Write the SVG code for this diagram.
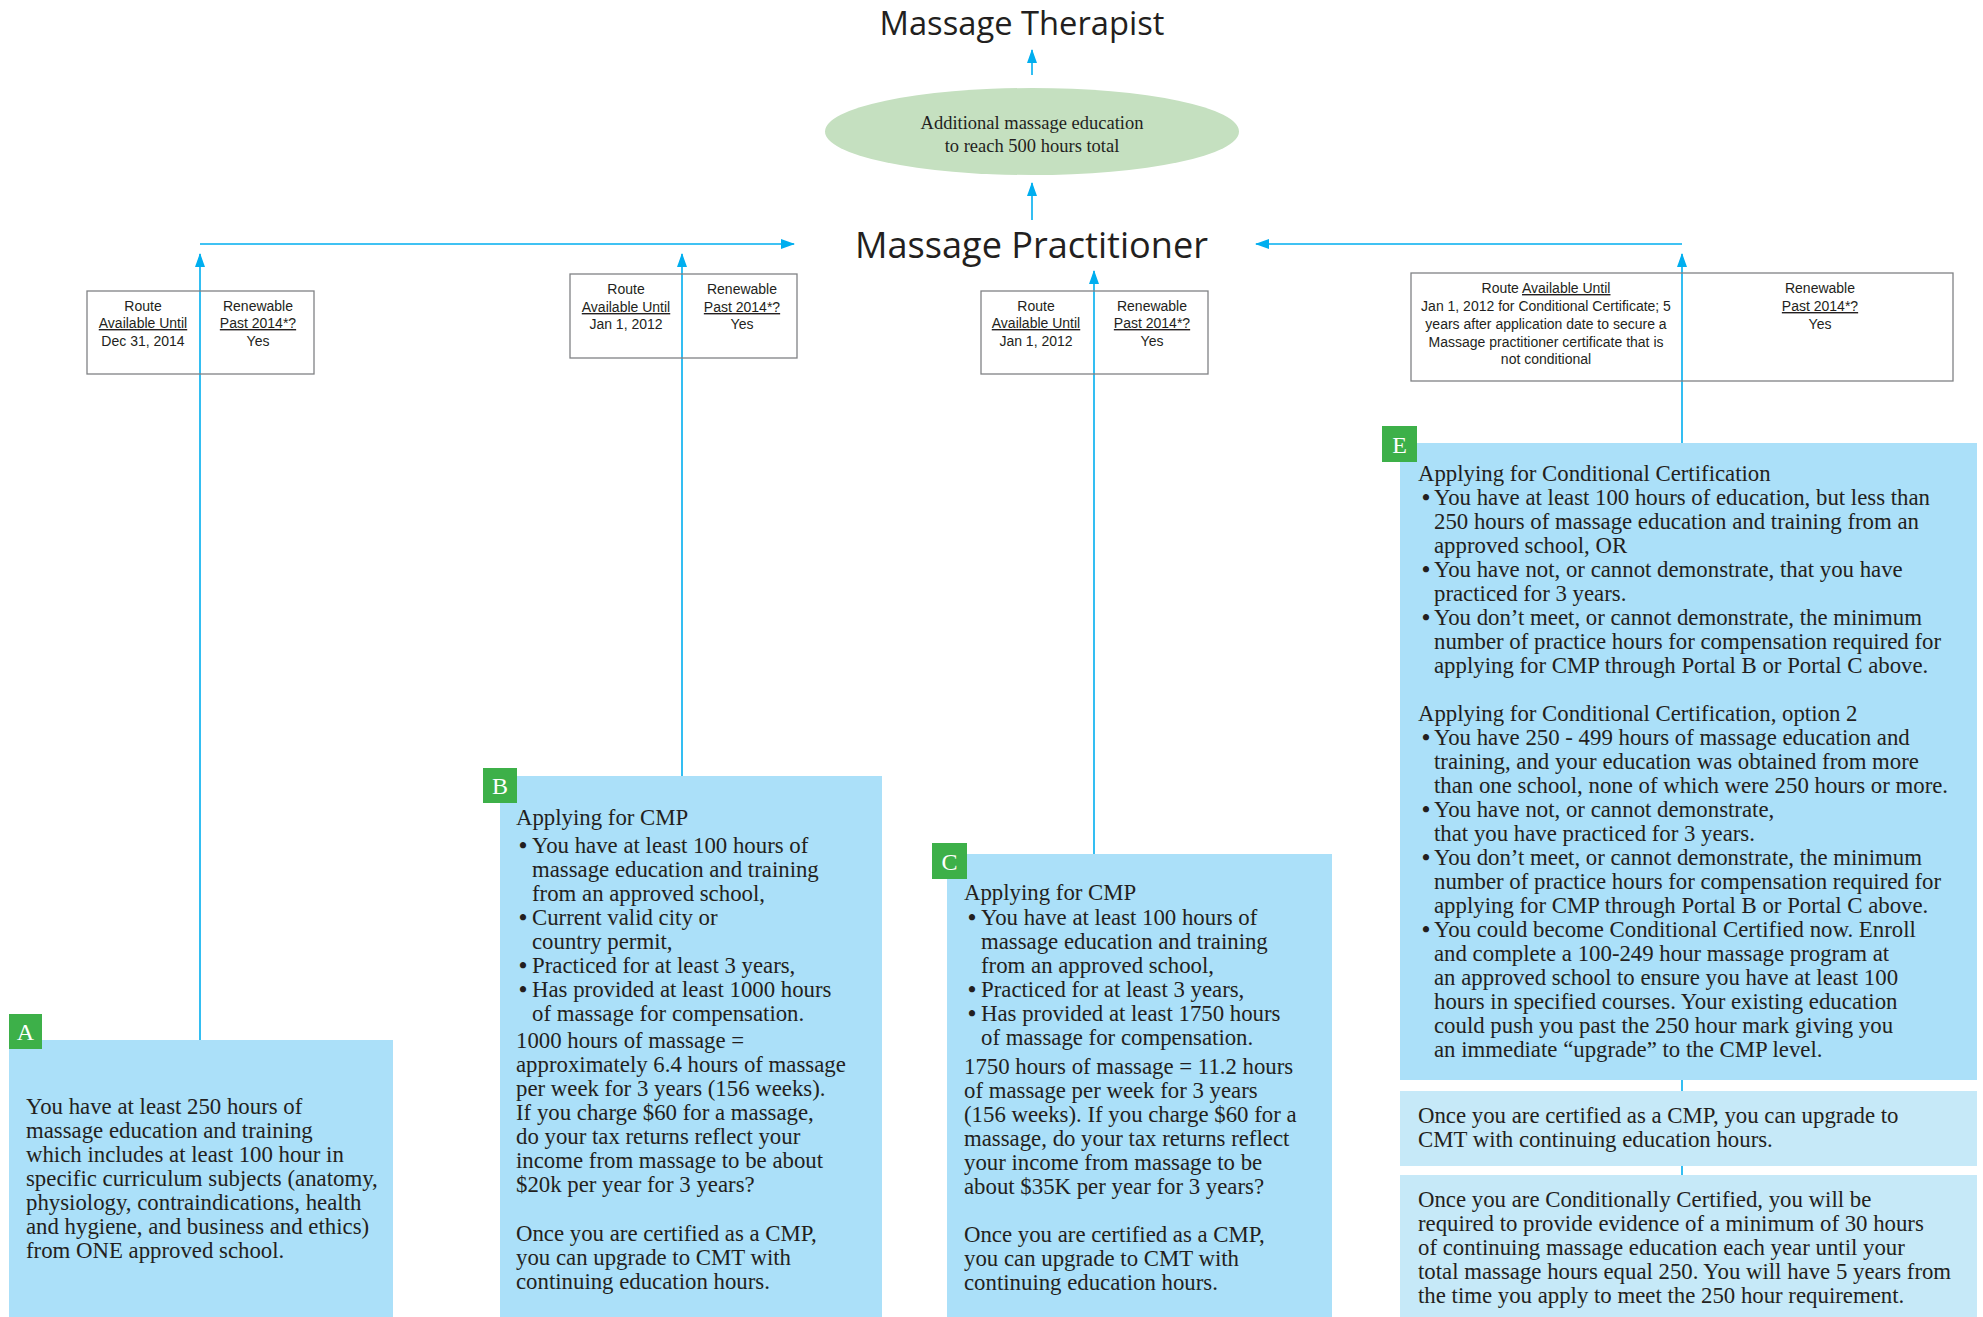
<svg xmlns="http://www.w3.org/2000/svg" width="1983" height="1317" viewBox="0 0 1983 1317">
<defs>
<style>
.conn{stroke:#00aeef;stroke-width:1.6;fill:none;marker-end:url(#ah)}
.box{fill:#abe0f9}
.sub{fill:#c6e9f8}
.tag{fill:#3db049}
.tagt{font-family:"Liberation Serif",serif;font-size:24px;fill:#ffffff;text-anchor:middle}
.body{font-family:"Liberation Serif",serif;font-size:22.8px;fill:#231f20}
.bl{font-weight:bold}
.tbl{fill:none;stroke:#808285;stroke-width:1.3}
.tt{font-family:"Liberation Sans",sans-serif;font-size:14px;fill:#231f20;text-anchor:middle}
.u{text-decoration:underline}
.title{font-family:"Open Sans",sans-serif;fill:#231f20;text-anchor:middle}
.ell{font-family:"Liberation Serif",serif;font-size:18.5px;fill:#231f20;text-anchor:middle}
</style>
<marker id="ah" viewBox="0 0 14 10" refX="13" refY="5" markerWidth="14" markerHeight="10" markerUnits="userSpaceOnUse" orient="auto">
<path d="M0,0 L14,5 L0,10 z" fill="#00aeef"/>
</marker>
</defs>
<rect width="1983" height="1317" fill="#ffffff"/>

<g id="connectors">
<path class="conn" d="M1032,75 V50"/>
<path class="conn" d="M1032,220 V183"/>
<path class="conn" d="M200,244 H794"/>
<path class="conn" d="M1682,244 H1256"/>
<path class="conn" d="M200,1040 V254"/>
<path class="conn" d="M682,776 V254"/>
<path class="conn" d="M1094,854 V271"/>
<path class="conn" d="M1682,1175 V254"/>
</g>

<g id="therapist">
<text class="title" x="1022" y="35" font-size="32" textLength="285" lengthAdjust="spacingAndGlyphs">Massage Therapist</text>
</g>

<g id="education">
<ellipse cx="1032" cy="131.5" rx="207" ry="43.5" fill="#c5e0c0"/>
<text class="ell" x="1032" y="129">Additional massage education</text>
<text class="ell" x="1032" y="152">to reach 500 hours total</text>
</g>

<g id="practitioner">
<text class="title" x="1031.5" y="258" font-size="37" textLength="353" lengthAdjust="spacingAndGlyphs">Massage Practitioner</text>
</g>

<g id="table-a">
<rect class="tbl" x="87" y="291" width="227" height="83"/>
<text class="tt" x="143" y="311">Route</text>
<text class="tt u" x="143" y="328">Available Until</text>
<text class="tt" x="143" y="346">Dec 31, 2014</text>
<text class="tt" x="258" y="311">Renewable</text>
<text class="tt u" x="258" y="328">Past 2014*?</text>
<text class="tt" x="258" y="346">Yes</text>
</g>

<g id="table-b">
<rect class="tbl" x="570" y="274" width="227" height="84"/>
<text class="tt" x="626" y="294">Route</text>
<text class="tt u" x="626" y="312">Available Until</text>
<text class="tt" x="626" y="329">Jan 1, 2012</text>
<text class="tt" x="742" y="294">Renewable</text>
<text class="tt u" x="742" y="312">Past 2014*?</text>
<text class="tt" x="742" y="329">Yes</text>
</g>

<g id="table-c">
<rect class="tbl" x="981" y="291" width="227" height="83"/>
<text class="tt" x="1036" y="311">Route</text>
<text class="tt u" x="1036" y="328">Available Until</text>
<text class="tt" x="1036" y="346">Jan 1, 2012</text>
<text class="tt" x="1152" y="311">Renewable</text>
<text class="tt u" x="1152" y="328">Past 2014*?</text>
<text class="tt" x="1152" y="346">Yes</text>
</g>

<g id="table-e">
<rect class="tbl" x="1411" y="273" width="542" height="108"/>
<text class="tt" x="1546" y="293">Route <tspan class="u">Available Until</tspan></text>
<text class="tt" x="1546" y="311">Jan 1, 2012 for Conditional Certificate; 5</text>
<text class="tt" x="1546" y="329">years after application date to secure a</text>
<text class="tt" x="1546" y="346.5">Massage practitioner certificate that is</text>
<text class="tt" x="1546" y="364">not conditional</text>
<text class="tt" x="1820" y="293">Renewable</text>
<text class="tt u" x="1820" y="311">Past 2014*?</text>
<text class="tt" x="1820" y="329">Yes</text>
</g>

<g id="portal-a">
<rect class="box" x="9" y="1040" width="384" height="277"/>
<rect class="tag" x="9" y="1014" width="33" height="35"/>
<text class="tagt" x="25.5" y="1040">A</text>
<text class="body" x="26" y="1114">You have at least 250 hours of</text>
<text class="body" x="26" y="1138">massage education and training</text>
<text class="body" x="26" y="1162">which includes at least 100 hour in</text>
<text class="body" x="26" y="1186">specific curriculum subjects (anatomy,</text>
<text class="body" x="26" y="1210">physiology, contraindications, health</text>
<text class="body" x="26" y="1234">and hygiene, and business and ethics)</text>
<text class="body" x="26" y="1258">from ONE approved school.</text>
</g>

<g id="portal-b">
<rect class="box" x="500" y="776" width="382" height="541"/>
<rect class="tag" x="483" y="768" width="34" height="35"/>
<text class="tagt" x="500" y="794">B</text>
<text class="body" x="516" y="825">Applying for CMP</text>
<text class="body" y="853"><tspan class="bl" x="519">•</tspan><tspan x="532">You have at least 100 hours of</tspan></text>
<text class="body" x="532" y="877">massage education and training</text>
<text class="body" x="532" y="901">from an approved school,</text>
<text class="body" y="925"><tspan class="bl" x="519">•</tspan><tspan x="532">Current valid city or</tspan></text>
<text class="body" x="532" y="949">country permit,</text>
<text class="body" y="973"><tspan class="bl" x="519">•</tspan><tspan x="532">Practiced for at least 3 years,</tspan></text>
<text class="body" y="997"><tspan class="bl" x="519">•</tspan><tspan x="532">Has provided at least 1000 hours</tspan></text>
<text class="body" x="532" y="1021">of massage for compensation.</text>
<text class="body" x="516" y="1048">1000 hours of massage =</text>
<text class="body" x="516" y="1072">approximately 6.4 hours of massage</text>
<text class="body" x="516" y="1096">per week for 3 years (156 weeks).</text>
<text class="body" x="516" y="1120">If you charge $60 for a massage,</text>
<text class="body" x="516" y="1144">do your tax returns reflect your</text>
<text class="body" x="516" y="1168">income from massage to be about</text>
<text class="body" x="516" y="1192">$20k per year for 3 years?</text>
<text class="body" x="516" y="1241">Once you are certified as a CMP,</text>
<text class="body" x="516" y="1265">you can upgrade to CMT with</text>
<text class="body" x="516" y="1289">continuing education hours.</text>
</g>

<g id="portal-c">
<rect class="box" x="947" y="854" width="385" height="463"/>
<rect class="tag" x="932" y="843" width="35" height="36"/>
<text class="tagt" x="949.5" y="870">C</text>
<text class="body" x="964" y="900">Applying for CMP</text>
<text class="body" y="925"><tspan class="bl" x="968">•</tspan><tspan x="981">You have at least 100 hours of</tspan></text>
<text class="body" x="981" y="949">massage education and training</text>
<text class="body" x="981" y="973">from an approved school,</text>
<text class="body" y="997"><tspan class="bl" x="968">•</tspan><tspan x="981">Practiced for at least 3 years,</tspan></text>
<text class="body" y="1021"><tspan class="bl" x="968">•</tspan><tspan x="981">Has provided at least 1750 hours</tspan></text>
<text class="body" x="981" y="1045">of massage for compensation.</text>
<text class="body" x="964" y="1074">1750 hours of massage = 11.2 hours</text>
<text class="body" x="964" y="1098">of massage per week for 3 years</text>
<text class="body" x="964" y="1122">(156 weeks). If you charge $60 for a</text>
<text class="body" x="964" y="1146">massage, do your tax returns reflect</text>
<text class="body" x="964" y="1170">your income from massage to be</text>
<text class="body" x="964" y="1194">about $35K per year for 3 years?</text>
<text class="body" x="964" y="1242">Once you are certified as a CMP,</text>
<text class="body" x="964" y="1266">you can upgrade to CMT with</text>
<text class="body" x="964" y="1290">continuing education hours.</text>
</g>

<g id="portal-e">
<rect class="box" x="1400" y="443" width="577" height="637"/>
<rect class="tag" x="1382" y="426" width="35" height="36"/>
<text class="tagt" x="1399.5" y="453">E</text>
<text class="body" x="1418" y="481">Applying for Conditional Certification</text>
<text class="body" y="505"><tspan class="bl" x="1422">•</tspan><tspan x="1434">You have at least 100 hours of education, but less than</tspan></text>
<text class="body" x="1434" y="529">250 hours of massage education and training from an</text>
<text class="body" x="1434" y="553">approved school, OR</text>
<text class="body" y="577"><tspan class="bl" x="1422">•</tspan><tspan x="1434">You have not, or cannot demonstrate, that you have</tspan></text>
<text class="body" x="1434" y="601">practiced for 3 years.</text>
<text class="body" y="625"><tspan class="bl" x="1422">•</tspan><tspan x="1434">You don’t meet, or cannot demonstrate, the minimum</tspan></text>
<text class="body" x="1434" y="649">number of practice hours for compensation required for</text>
<text class="body" x="1434" y="673">applying for CMP through Portal B or Portal C above.</text>
<text class="body" x="1418" y="721">Applying for Conditional Certification, option 2</text>
<text class="body" y="745"><tspan class="bl" x="1422">•</tspan><tspan x="1434">You have 250 - 499 hours of massage education and</tspan></text>
<text class="body" x="1434" y="769">training, and your education was obtained from more</text>
<text class="body" x="1434" y="793">than one school, none of which were 250 hours or more.</text>
<text class="body" y="817"><tspan class="bl" x="1422">•</tspan><tspan x="1434">You have not, or cannot demonstrate,</tspan></text>
<text class="body" x="1434" y="841">that you have practiced for 3 years.</text>
<text class="body" y="865"><tspan class="bl" x="1422">•</tspan><tspan x="1434">You don’t meet, or cannot demonstrate, the minimum</tspan></text>
<text class="body" x="1434" y="889">number of practice hours for compensation required for</text>
<text class="body" x="1434" y="913">applying for CMP through Portal B or Portal C above.</text>
<text class="body" y="937"><tspan class="bl" x="1422">•</tspan><tspan x="1434">You could become Conditional Certified now. Enroll</tspan></text>
<text class="body" x="1434" y="961">and complete a 100-249 hour massage program at</text>
<text class="body" x="1434" y="985">an approved school to ensure you have at least 100</text>
<text class="body" x="1434" y="1009">hours in specified courses. Your existing education</text>
<text class="body" x="1434" y="1033">could push you past the 250 hour mark giving you</text>
<text class="body" x="1434" y="1057">an immediate “upgrade” to the CMP level.</text>
</g>

<g id="upgrade-cmt">
<rect class="sub" x="1400" y="1091" width="577" height="75"/>
<text class="body" x="1418" y="1123">Once you are certified as a CMP, you can upgrade to</text>
<text class="body" x="1418" y="1147">CMT with continuing education hours.</text>
</g>

<g id="conditional-ce">
<rect class="sub" x="1400" y="1175" width="577" height="142"/>
<text class="body" x="1418" y="1207">Once you are Conditionally Certified, you will be</text>
<text class="body" x="1418" y="1231">required to provide evidence of a minimum of 30 hours</text>
<text class="body" x="1418" y="1255">of continuing massage education each year until your</text>
<text class="body" x="1418" y="1279">total massage hours equal 250. You will have 5 years from</text>
<text class="body" x="1418" y="1303">the time you apply to meet the 250 hour requirement.</text>
</g>
</svg>
